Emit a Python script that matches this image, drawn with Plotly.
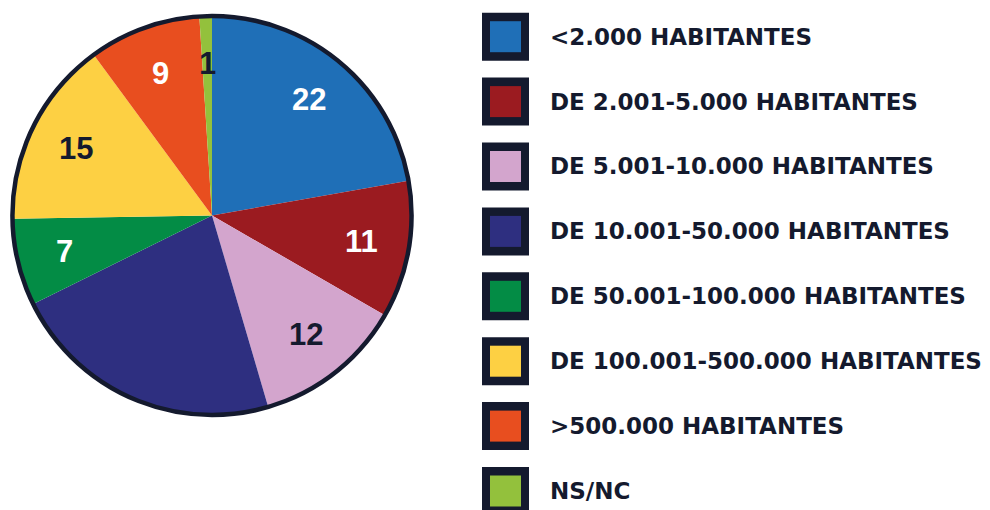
import plotly.graph_objects as go
import math

categories = ["<2.000 HABITANTES", "DE 2.001-5.000 HABITANTES", "DE 5.001-10.000 HABITANTES",
              "DE 10.001-50.000 HABITANTES", "DE 50.001-100.000 HABITANTES",
              "DE 100.001-500.000 HABITANTES", ">500.000 HABITANTES", "NS/NC"]
values = [22, 11, 12, 22, 7, 15, 9, 1]
colors = ["#1f6fb7", "#9b1b20", "#d3a5cd", "#2e2f80", "#038c45", "#fdd043", "#e84e1f", "#93c13c"]
label_colors = ["#ffffff", "#ffffff", "#141a2e", None, "#ffffff", "#141a2e", "#ffffff", "#141a2e"]

DARK = "#141a2e"
W, H = 990, 510
cx, cy, R = 212, 215.5, 199.5

fig = go.Figure()
dom = dict(x=[(cx - R) / W, (cx + R) / W], y=[(H - cy - R) / H, (H - cy + R) / H])
fig.add_trace(go.Pie(labels=categories, values=values, sort=False, direction="clockwise",
                     rotation=0, marker=dict(colors=colors, line=dict(width=0)),
                     textinfo="none", hoverinfo="label+value", domain=dom, showlegend=False))
# outer ring
fig.add_trace(go.Pie(values=[1], sort=False, marker=dict(colors=["rgba(0,0,0,0)"], line=dict(color=DARK, width=4.5)),
                     textinfo="none", hoverinfo="skip", domain=dom, showlegend=False))

annotations = []
total = sum(values)
cum = 0
for v, lc in zip(values, label_colors):
    mid = (cum + v / 2) / total * 2 * math.pi
    cum += v
    if lc is None:
        continue
    r = R * 0.76
    px = cx + r * math.sin(mid)
    py = cy - r * math.cos(mid)
    annotations.append(dict(x=px / W, y=(H - py) / H, xref="paper", yref="paper", text="<b>" + str(v) + "</b>",
                            showarrow=False, font=dict(family="Liberation Sans", size=31, color=lc),
                            xanchor="center", yanchor="middle"))

shapes = []
row0, step = 36.7, 64.9
for i, (cat, col) in enumerate(zip(categories, colors)):
    yc = row0 + i * step
    shapes.append(dict(type="rect", xref="paper", yref="paper", x0=482 / W, x1=529 / W,
                       y0=(H - yc - 24) / H, y1=(H - yc + 24) / H, fillcolor=DARK, line=dict(width=0)))
    shapes.append(dict(type="rect", xref="paper", yref="paper", x0=490 / W, x1=521 / W,
                       y0=(H - yc - 15.5) / H, y1=(H - yc + 15.5) / H, fillcolor=col, line=dict(width=0)))
    annotations.append(dict(x=548 / W, y=(H - yc) / H, xref="paper", yref="paper", text="<b>" + cat.replace("<", "&lt;").replace(">", "&gt;") + "</b>",
                            showarrow=False, font=dict(family="DejaVu Sans", size=23, color=DARK),
                            xanchor="left", yanchor="middle"))

fig.update_layout(width=W, height=H, margin=dict(l=0, r=0, t=0, b=0),
                  paper_bgcolor="white", plot_bgcolor="white",
                  annotations=annotations, shapes=shapes, showlegend=False)
fig.write_html("out.html", config={"displayModeBar": False},
               post_script="document.body.style.margin='0';document.body.style.overflow='hidden';")
